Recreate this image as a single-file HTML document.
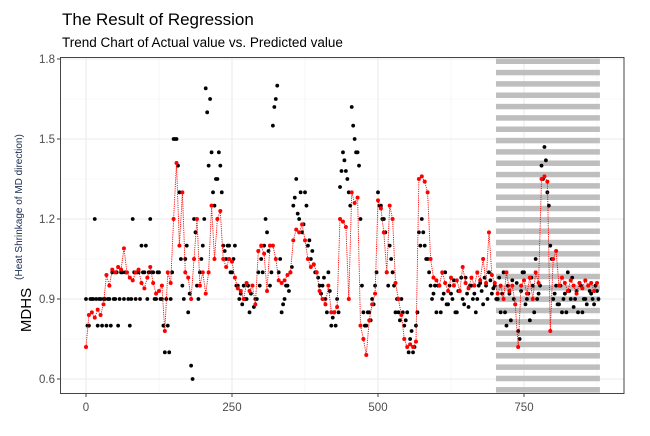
<!DOCTYPE html>
<html><head><meta charset="utf-8"><style>
html,body{margin:0;padding:0;background:#fff;}
body{width:650px;height:431px;overflow:hidden;font-family:"Liberation Sans",sans-serif;}
</style></head><body>
<svg id="chart" width="650" height="431" xmlns="http://www.w3.org/2000/svg" font-family="Liberation Sans, sans-serif">
<text x="62" y="25" font-size="17" fill="#000">The Result of Regression</text>
<text x="62" y="47" font-size="13.5" fill="#000">Trend Chart of Actual value vs. Predicted value</text>
<text transform="translate(31,310) rotate(-90)" text-anchor="middle" font-size="15" fill="#000">MDHS</text>
<text transform="translate(22,207) rotate(-90)" text-anchor="middle" font-size="10" fill="#1a2a50">(Heat Shrinkage of MD direction)</text>
<g id="grid"></g>
<g id="stripes"></g>
<g id="marks"></g>
<rect x="60.5" y="57.5" width="563.5" height="336" fill="none" stroke="#444" stroke-width="1"/>
<g id="axes"></g>
</svg>
<script>
const xTicks=[0,250,500,750];
const xMinor=[125,375,625,875];
const yTicks=[0.6,0.9,1.2,1.5,1.8];
const yMinor=[0.75,1.05,1.35,1.65];
const step=5;
const actual=[0.9,0.8,0.9,1.2,0.8,0.9,0.9,0.8,0.9,1.0,0.9,0.8,
1.0,0.9,1.0,0.8,1.2,0.9,1.0,1.1,1.0,0.9,1.2,1.0,0.9,1.0,
0.9,0.7,0.8,0.9,
1.5,1.5,1.3,0.95,1.05,
0.85,0.65,1.2,0.95,1.0,1.1,
1.69,1.4,1.45,1.25,1.35,1.4,
1.1,1.05,1.1,1.0,1.1,0.95,
0.92,0.95,0.9,0.85,0.95,0.9,1.0,
1.05,1.1,1.15,0.95,1.55,
1.65,1.0,0.85,0.9,0.95,1.0,
1.25,1.35,1.2,1.15,1.3,
1.1,1.05,1.03,1.0,0.95,0.95,0.9,1.0,
0.8,0.85,0.9,
1.32,1.45,1.38,1.3,
1.62,1.5,1.45,1.2,
0.85,0.8,0.85,0.9,0.95,
1.3,1.25,1.2,1.0,
1.1,1.0,0.85,0.85,0.9,
0.8,0.85,0.75,0.7,0.8,
1.15,1.2,1.1,1.05,0.95,0.92,
0.85,0.95,0.9,1.0,0.88,0.92,0.97,0.85,0.93,0.9,0.98,0.87,0.95,0.92,0.9,0.96,0.88,0.95,1.0,0.92,
0.95,0.9,0.85,1.0,0.8,0.92,0.97,0.88,0.78,0.93,1.0,0.9,0.82,0.95,1.05,0.92,
1.4,1.47,1.3,1.1,
0.9,0.95,0.88,0.85,0.92,1.0,0.9,0.87,0.93,0.96,0.85,0.9,0.95,0.92,0.88,0.93];
const actualB=[0.8,0.9,0.9,0.9,0.9,0.8,0.9,0.9,0.8,0.9,1.0,0.9,
1.0,1.0,0.9,0.9,1.0,1.0,0.9,1.0,1.1,1.0,1.0,0.9,1.0,0.9,
0.8,0.9,0.7,1.0,
1.5,1.4,1.05,0.9,1.1,
0.92,0.6,1.15,0.9,1.05,1.2,
1.6,1.65,1.3,1.35,1.45,1.3,
1.08,1.1,1.0,1.05,0.95,0.9,
0.88,0.9,0.95,0.92,0.87,0.9,0.95,
1.0,1.2,1.08,1.0,1.62,
1.7,1.05,0.88,0.95,0.93,1.02,
1.28,1.22,1.3,1.18,1.25,
1.12,1.08,1.0,0.98,0.92,0.98,0.85,0.93,
0.83,0.8,0.85,
1.38,1.42,1.35,1.25,
1.55,1.45,1.4,0.95,
0.8,0.85,0.82,0.88,1.0,
1.25,1.2,1.15,0.95,
1.05,0.95,0.9,0.82,0.85,
0.82,0.7,0.78,0.72,0.85,
1.1,1.15,1.05,1.0,0.9,0.95,
0.95,0.85,0.92,0.88,0.95,0.9,0.85,0.93,0.98,0.88,0.92,0.95,0.9,0.85,0.95,0.93,0.98,0.9,0.97,0.94,
0.9,0.98,0.92,0.85,0.95,0.82,0.9,0.96,0.75,1.0,0.88,0.92,0.98,0.85,0.9,0.95,
1.35,1.42,1.25,1.05,
0.92,0.88,0.95,0.9,0.85,0.93,0.98,0.9,0.85,0.95,0.9,0.88,0.93,0.9,0.95,0.9];
const predicted=[0.72,0.84,0.85,0.83,0.86,0.84,0.88,0.99,0.95,1.01,1.0,1.02,
1.01,1.09,1.0,0.98,0.97,1.0,1.01,0.96,0.94,0.98,1.02,0.96,0.92,0.93,
0.95,0.78,1.0,0.96,
1.2,1.41,1.1,1.3,1.0,
0.98,0.9,1.05,1.2,0.95,1.0,
0.92,1.0,1.25,1.05,1.2,1.23,
1.05,1.02,1.05,1.04,0.98,0.94,
0.93,0.9,0.96,0.93,0.95,0.88,1.08,
1.1,1.07,0.93,1.1,1.1,
1.05,0.97,0.96,0.97,0.99,1.0,
1.12,1.16,1.15,1.18,1.12,
1.05,1.02,1.03,1.0,0.93,0.9,0.88,0.95,
0.85,0.85,0.87,
1.2,1.19,1.17,0.9,
1.3,1.26,1.28,0.8,
0.75,0.69,0.82,0.88,0.92,
1.27,1.24,1.15,1.0,
1.25,1.2,0.96,0.9,0.84,
0.75,0.72,0.73,0.72,0.74,
1.35,1.36,1.34,1.3,1.05,0.98,
0.97,0.95,1.0,0.96,0.93,0.98,0.95,0.97,0.93,1.02,0.96,0.94,0.98,0.95,1.0,0.97,1.05,0.96,1.15,0.99,
0.96,0.92,0.95,0.9,1.0,0.93,0.95,0.88,0.72,0.95,0.97,0.92,0.98,0.9,1.0,0.96,
1.35,1.36,1.34,0.78,
1.05,1.08,0.95,0.98,0.96,0.93,0.97,0.95,0.92,0.96,0.94,0.97,0.95,0.96,0.93,0.96];
const testStart=702, testEnd=880;

const NS='http://www.w3.org/2000/svg';
function xs(v){return 86+v*0.584;}
function ys(v){return 379-(v-0.6)*(320/1.2);}
function mk(tag,attrs,parent){const e=document.createElementNS(NS,tag);for(const k in attrs)e.setAttribute(k,attrs[k]);parent.appendChild(e);return e;}
const grid=document.getElementById('grid'),stripes=document.getElementById('stripes'),marks=document.getElementById('marks'),axes=document.getElementById('axes');
const L=60.5,R=624,T=57.5,B=393.5;
yMinor.forEach(v=>{const l=mk('line',{x1:L,x2:R,y1:ys(v),y2:ys(v),stroke:'#f2f2f2','stroke-width':0.6},grid);

});
xMinor.forEach(v=>{const l=mk('line',{x1:xs(v),x2:xs(v),y1:T,y2:B,stroke:'#f2f2f2','stroke-width':0.6},grid);

});
yTicks.forEach(v=>{const l=mk('line',{x1:L,x2:R,y1:ys(v),y2:ys(v),stroke:'#ebebeb','stroke-width':1.1},grid);


const t=mk('text',{x:55,y:ys(v)+4,'text-anchor':'end','font-size':11.5,fill:'#4d4d4d'},axes);t.textContent=v.toFixed(1);


const k=mk('line',{x1:57,x2:60.5,y1:ys(v),y2:ys(v),stroke:'#444'},axes);

});
xTicks.forEach(v=>{const l=mk('line',{x1:xs(v),x2:xs(v),y1:T,y2:B,stroke:'#ebebeb','stroke-width':1.1},grid);


const t=mk('text',{x:xs(v),y:411,'text-anchor':'middle','font-size':11.5,fill:'#4d4d4d'},axes);t.textContent=v;


const k=mk('line',{x1:xs(v),x2:xs(v),y1:393.5,y2:397,stroke:'#444'},axes);

});
for(let i=0;i<30;i++){const y=58.5+i*11.33;if(y>B)break;
const r=mk('rect',{x:xs(testStart),y:y,width:xs(testEnd)-xs(testStart),height:Math.min(5.5,B-y),fill:'#bebebe'},stripes);

}
actual.forEach((v,i)=>{const c=mk('circle',{cx:xs(i*step),cy:ys(v),r:1.9,fill:'#000'},marks);

});
actualB.forEach((v,i)=>{const c=mk('circle',{cx:xs(i*step+2.5),cy:ys(v),r:1.9,fill:'#000'},marks);

});
const d=predicted.map((v,i)=>(i?'L':'M')+xs(i*step).toFixed(1)+','+ys(v).toFixed(1)).join('');
const pl=mk('path',{d:d,fill:'none',stroke:'#ff0000','stroke-width':0.9,'stroke-dasharray':'1.2,1'},marks);


predicted.forEach((v,i)=>{const c=mk('circle',{cx:xs(i*step),cy:ys(v),r:2,fill:'#ff0000'},marks);

});
</script>
</body></html>
